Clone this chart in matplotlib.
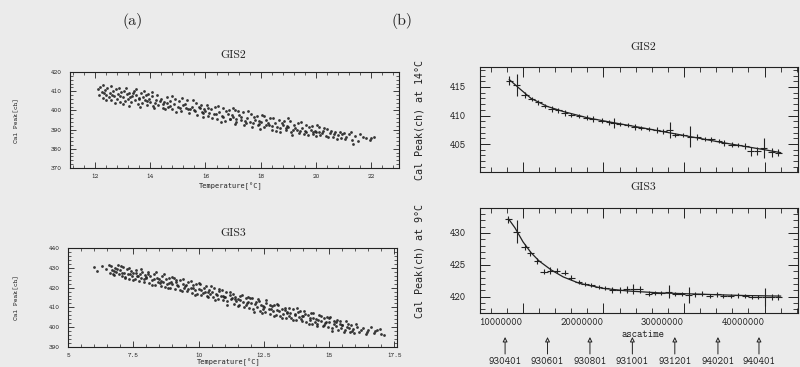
import matplotlib
matplotlib.use('Agg')
import matplotlib.pyplot as plt
from matplotlib.ticker import MultipleLocator, NullFormatter, FixedLocator
from matplotlib.transforms import blended_transform_factory

# ---------------- data: panel (a) temperature dependence ----------------
gis2_temp_scatter = [
    (12.1, 411), (12.15, 408), (12.2, 412), (12.25, 409.5), (12.3, 406.5), (12.35, 410.5), (12.4, 408),
    (12.45, 411.5), (12.5, 407), (12.55, 409), (12.6, 405.5), (12.65, 410), (12.7, 407.5), (12.75, 411),
    (12.8, 406), (12.85, 408.5), (12.9, 404.5), (12.95, 409.5), (13.0, 407), (13.05, 410), (13.1, 405),
    (13.15, 408.5), (13.2, 406), (13.25, 409), (13.3, 404.5), (13.35, 407.5), (13.4, 410), (13.45, 405.5),
    (13.5, 408), (13.55, 403.5), (13.6, 406.5), (13.65, 409), (13.7, 404), (13.75, 407), (13.8, 405.5),
    (13.85, 408), (13.9, 403), (13.95, 406), (14.0, 404.5), (14.05, 407.5), (14.1, 402.5), (14.2, 405.5),
    (14.25, 408), (14.3, 403), (14.4, 406), (14.45, 401.5), (14.5, 404.5), (14.6, 407), (14.65, 402),
    (14.7, 405), (14.8, 400.5), (14.85, 403.5), (14.9, 406), (15.0, 402), (15.05, 405), (15.1, 399.5),
    (15.2, 403), (15.3, 401), (15.35, 405.5), (15.4, 398.5), (15.5, 402), (15.6, 400), (15.65, 404),
    (15.7, 397.5), (15.8, 401), (15.85, 403), (15.9, 398.5), (15.95, 400.5), (16.0, 399.5), (16.05, 403),
    (16.1, 397), (16.2, 400.5), (16.3, 398), (16.35, 402), (16.4, 395.5), (16.5, 399), (16.6, 397),
    (16.65, 401), (16.7, 394.5), (16.8, 398), (16.85, 400), (16.9, 395.5), (16.95, 397.5), (17.0, 396.5),
    (17.05, 400), (17.1, 394), (17.2, 397.5), (17.3, 395), (17.35, 399), (17.4, 392.5), (17.5, 396),
    (17.6, 394), (17.65, 398), (17.7, 391.5), (17.8, 395), (17.85, 397), (17.9, 392.5), (17.95, 394.5),
    (18.0, 394), (18.05, 397.5), (18.1, 391.5), (18.2, 395), (18.3, 392.5), (18.35, 396), (18.4, 390),
    (18.5, 393.5), (18.6, 391.5), (18.65, 395), (18.7, 389), (18.8, 392.5), (18.85, 394.5), (18.9, 390),
    (18.95, 392), (19.0, 391.5), (19.05, 394.5), (19.1, 389), (19.2, 392.5), (19.3, 390), (19.35, 393.5),
    (19.4, 388), (19.5, 391), (19.6, 389.5), (19.65, 392.5), (19.7, 387), (19.8, 390), (19.85, 392),
    (19.9, 387.5), (19.95, 389.5), (20.0, 389), (20.1, 391.5), (20.15, 387), (20.25, 389.5), (20.35, 386.5),
    (20.4, 390.5), (20.5, 388), (20.6, 386), (20.7, 389), (20.8, 387), (20.9, 385.5), (21.0, 388),
    (21.1, 386), (21.25, 389), (21.4, 386.5), (21.5, 384), (21.6, 387.5), (21.8, 385.5), (21.95, 384.5),
    (22.1, 386), (21.35, 382.5),
    (12.28, 413.0), (12.42, 405.5), (12.58, 412.5), (12.72, 404.0), (12.88, 411.5), (13.02, 403.5),
    (13.12, 411.5), (13.22, 402.5), (13.38, 409.0), (13.48, 411.0), (13.62, 402.0), (13.78, 410.0),
    (13.92, 408.5), (14.08, 409.5), (14.15, 401.0), (14.35, 405.0), (14.55, 400.5), (14.62, 404.0),
    (14.78, 407.5), (14.95, 399.0), (15.15, 406.5), (15.25, 403.5), (15.45, 400.5), (15.55, 405.5),
    (15.75, 402.0), (15.92, 396.5), (16.08, 401.5), (16.25, 396.0), (16.45, 402.5), (16.55, 394.0),
    (16.75, 399.5), (16.98, 401.0), (17.08, 393.0), (17.18, 399.5), (17.28, 396.5), (17.45, 393.5),
    (17.55, 399.5), (17.75, 396.5), (17.98, 390.5), (18.12, 397.0), (18.25, 393.5), (18.45, 396.0),
    (18.55, 389.5), (18.75, 393.5), (18.98, 396.0), (19.12, 387.0), (19.25, 391.0), (19.45, 394.0),
    (19.55, 387.5), (19.75, 391.5), (19.98, 386.5), (20.05, 392.5), (20.2, 388.0), (20.3, 391.0),
    (20.45, 386.0), (20.55, 389.5), (20.65, 387.5), (20.75, 385.0), (20.85, 388.5), (20.95, 387.5),
    (21.05, 385.0), (21.2, 387.5), (21.3, 384.5), (21.7, 386.0), (22.0, 385.5),
    (12.32, 409.0), (12.62, 408.0), (12.92, 407.5), (13.28, 407.0), (13.58, 406.0), (13.88, 405.0),
    (14.18, 404.0), (14.48, 403.5), (14.72, 402.5), (15.08, 401.5), (15.38, 400.5), (15.62, 399.5),
    (15.88, 399.0), (16.12, 398.5), (16.38, 398.0), (16.62, 396.5), (16.88, 395.5), (17.12, 395.5),
    (17.42, 394.5), (17.72, 393.5), (17.92, 393.0), (18.18, 392.5), (18.42, 392.0), (18.68, 391.0),
    (18.92, 391.0), (19.18, 390.0), (19.42, 389.5), (19.62, 388.5), (19.88, 388.5), (20.12, 388.5),
]

gis3_temp_scatter = [
    (6.0, 430.5), (6.1, 428.5), (6.3, 431), (6.45, 429.5), (6.6, 427.5), (6.65, 431), (6.7, 429),
    (6.75, 426.5), (6.8, 430), (6.85, 428), (6.9, 431.5), (6.95, 427), (7.0, 429), (7.05, 426),
    (7.1, 430.5), (7.15, 427.5), (7.2, 425.5), (7.25, 429.5), (7.3, 427), (7.35, 424.5), (7.4, 428.5),
    (7.45, 426), (7.5, 427.5), (7.55, 424.5), (7.6, 429), (7.65, 426), (7.7, 423.5), (7.75, 427),
    (7.8, 425), (7.85, 428), (7.9, 423), (7.95, 426.5), (8.0, 425), (8.05, 428), (8.1, 422.5),
    (8.15, 426), (8.2, 424), (8.3, 427), (8.35, 421.5), (8.4, 425), (8.45, 423), (8.5, 424.5),
    (8.55, 421), (8.6, 426), (8.65, 423), (8.7, 420.5), (8.75, 424.5), (8.8, 422), (8.85, 425),
    (8.9, 420), (8.95, 423), (9.0, 422), (9.05, 425), (9.1, 419.5), (9.15, 423), (9.2, 421),
    (9.3, 424), (9.35, 418.5), (9.4, 422), (9.45, 420), (9.5, 421.5), (9.55, 418.5), (9.6, 423),
    (9.7, 420), (9.75, 417.5), (9.8, 421.5), (9.85, 419), (9.9, 422), (9.95, 417), (10.0, 419.5),
    (10.05, 422), (10.1, 416.5), (10.2, 420), (10.25, 418), (10.3, 421), (10.35, 415.5), (10.4, 419),
    (10.45, 417), (10.5, 418), (10.55, 415), (10.6, 420), (10.7, 416.5), (10.75, 414), (10.8, 418.5),
    (10.85, 416), (10.9, 419), (10.95, 413.5), (11.0, 415.5), (11.05, 418), (11.1, 413), (11.2, 416.5),
    (11.25, 414), (11.3, 417), (11.35, 411.5), (11.4, 415), (11.45, 413), (11.5, 414), (11.55, 411),
    (11.6, 416), (11.7, 412.5), (11.75, 410), (11.8, 414.5), (11.85, 412), (11.9, 415), (11.95, 409.5),
    (12.0, 412), (12.05, 414.5), (12.1, 409), (12.2, 412.5), (12.25, 410), (12.3, 413), (12.35, 408),
    (12.4, 411), (12.45, 409), (12.5, 410), (12.55, 407.5), (12.6, 412), (12.7, 409), (12.75, 406.5),
    (12.8, 410.5), (12.85, 408), (12.9, 411), (12.95, 406), (13.0, 408.5), (13.05, 411), (13.1, 405.5),
    (13.2, 409), (13.25, 406.5), (13.3, 409.5), (13.35, 404.5), (13.4, 407.5), (13.45, 405.5), (13.5, 407),
    (13.55, 404.5), (13.6, 409), (13.7, 406), (13.75, 403.5), (13.8, 407.5), (13.85, 405), (13.9, 408),
    (13.95, 403), (14.0, 405.5), (14.05, 408), (14.1, 402.5), (14.2, 406), (14.25, 403.5), (14.3, 407),
    (14.35, 401.5), (14.4, 404.5), (14.45, 402.5), (14.5, 404), (14.55, 401.5), (14.6, 406), (14.7, 403),
    (14.75, 400.5), (14.8, 404.5), (14.85, 402), (14.9, 405), (14.95, 400), (15.0, 402.5), (15.05, 405),
    (15.1, 399.5), (15.2, 403), (15.25, 400.5), (15.3, 403.5), (15.35, 398.5), (15.4, 401.5), (15.45, 399.5),
    (15.5, 401), (15.6, 398.5), (15.65, 403), (15.7, 400), (15.8, 397.5), (15.85, 401), (15.9, 399),
    (15.95, 397), (16.05, 400), (16.15, 397.5), (16.3, 399.5), (16.4, 396.5), (16.5, 398.5), (16.6, 400),
    (16.7, 397), (16.85, 398.5), (17.0, 396.5), (16.95, 399),
    (6.58, 431.5), (6.72, 427.0), (6.88, 429.5), (7.02, 431.0), (7.18, 425.0), (7.32, 430.0),
    (7.48, 424.0), (7.62, 427.5), (7.78, 429.5), (7.92, 424.5), (8.08, 427.0), (8.22, 421.5),
    (8.38, 428.0), (8.52, 422.5), (8.68, 427.0), (8.82, 420.0), (8.98, 425.5), (9.12, 424.0),
    (9.28, 419.0), (9.42, 424.5), (9.58, 419.5), (9.72, 423.5), (9.88, 416.5), (10.02, 422.5),
    (10.18, 417.5), (10.32, 416.0), (10.48, 421.0), (10.62, 413.5), (10.78, 419.5), (10.92, 416.0),
    (11.08, 411.0), (11.22, 418.0), (11.38, 414.0), (11.52, 410.5), (11.68, 416.5), (11.82, 411.0),
    (11.98, 414.5), (12.12, 407.5), (12.28, 414.0), (12.42, 407.0), (12.58, 413.5), (12.72, 411.0),
    (12.88, 405.5), (13.02, 411.5), (13.18, 404.5), (13.32, 408.5), (13.48, 409.5), (13.62, 403.5),
    (13.78, 409.5), (13.92, 404.0), (14.08, 406.5), (14.22, 401.5), (14.38, 407.0), (14.52, 400.5),
    (14.68, 405.5), (14.82, 401.0), (14.98, 404.5), (15.12, 398.0), (15.28, 402.5), (15.42, 403.0),
    (15.58, 397.5), (15.72, 401.5), (15.88, 398.0), (16.02, 401.5), (16.22, 398.5), (16.45, 397.5),
    (16.75, 398.0), (17.1, 396.0),
    (6.78, 428.5), (7.08, 427.5), (7.38, 427.0), (7.68, 426.0), (7.98, 425.5), (8.28, 424.5),
    (8.58, 423.5), (8.88, 422.5), (9.18, 421.5), (9.48, 421.0), (9.78, 420.0), (10.08, 419.0),
    (10.38, 418.0), (10.68, 417.0), (10.98, 415.5), (11.28, 414.5), (11.58, 413.5), (11.88, 412.5),
    (12.18, 411.5), (12.48, 410.5), (12.78, 409.0), (13.08, 408.0), (13.38, 407.0), (13.68, 406.5),
    (13.98, 405.5), (14.28, 404.5), (14.58, 403.5), (14.88, 402.5), (15.18, 401.5), (15.48, 401.0),
    (15.78, 399.5),
]

# ---------------- data: panel (b) time dependence ----------------
gis2_time = [8.3e6, 9.2e6, 1.025e7, 1.11e7, 1.19e7, 1.27e7, 1.36e7, 1.44e7, 1.52e7, 1.60e7,
             1.70e7, 1.79e7, 1.87e7, 1.98e7, 2.07e7, 2.13e7, 2.20e7, 2.30e7, 2.39e7, 2.47e7,
             2.57e7, 2.66e7, 2.74e7, 2.82e7, 2.89e7, 2.99e7, 3.08e7, 3.16e7, 3.26e7, 3.34e7,
             3.43e7, 3.50e7, 3.59e7, 3.67e7, 3.76e7, 3.83e7, 3.91e7, 3.99e7, 4.09e7, 4.17e7]
gis2_peak = [416.1, 415.35, 413.6, 412.9, 412.3, 411.7, 411.1, 410.9, 410.5, 410.1,
             409.95, 409.65, 409.4, 409.1, 408.8, 408.7, 408.5, 408.3, 408.0, 407.8,
             407.6, 407.5, 407.2, 407.4, 406.6, 406.6, 406.3, 406.2, 405.9, 405.8,
             405.5, 405.2, 404.9, 404.8, 404.6, 403.7, 403.7, 404.3, 403.55, 403.45]
gis2_err = [0.8, 2.0, 0.5, 0.4, 0.4, 0.4, 0.5, 0.4, 0.5, 0.4,
            0.4, 0.4, 0.5, 0.4, 0.4, 0.9, 0.4, 0.4, 0.5, 0.4,
            0.4, 0.5, 0.4, 1.4, 0.4, 0.4, 1.8, 0.5, 0.4, 0.4,
            0.4, 0.5, 0.4, 0.4, 0.5, 0.8, 0.7, 1.7, 0.8, 0.6]
gis2_fit_time = [8.3e6, 9.5e6, 1.1e7, 1.3e7, 1.5e7, 1.8e7, 2.1e7, 2.5e7, 3.0e7, 3.5e7, 4.0e7, 4.2e7]
gis2_fit_peak = [416.3, 414.8, 413.0, 411.6, 410.7, 409.6, 408.8, 407.8, 406.5, 405.2, 404.0, 403.5]

gis3_time = [8.17e6, 9.2e6, 1.025e7, 1.09e7, 1.18e7, 1.26e7, 1.34e7, 1.42e7, 1.52e7, 1.60e7,
             1.69e7, 1.77e7, 1.85e7, 1.94e7, 2.02e7, 2.11e7, 2.20e7, 2.29e7, 2.37e7, 2.45e7,
             2.56e7, 2.64e7, 2.72e7, 2.81e7, 2.89e7, 2.97e7, 3.06e7, 3.14e7, 3.22e7, 3.32e7,
             3.41e7, 3.49e7, 3.58e7, 3.67e7, 3.76e7, 3.84e7, 3.92e7, 4.01e7, 4.09e7, 4.17e7]
gis3_peak = [432.1, 430.15, 427.8, 426.8, 425.6, 423.9, 424.1, 424.1, 423.75, 423.0,
             422.35, 422.0, 421.8, 421.55, 421.4, 421.05, 421.05, 421.15, 421.15, 421.15,
             420.5, 420.6, 420.6, 420.8, 420.4, 420.4, 420.25, 420.4, 420.5, 420.1,
             420.4, 420.1, 420.1, 420.25, 420.1, 419.9, 419.9, 420.0, 420.0, 420.0]
gis3_err = [0.5, 1.8, 0.5, 0.4, 0.4, 0.4, 0.5, 0.4, 0.4, 0.4,
            0.3, 0.3, 0.3, 0.3, 0.3, 0.4, 0.4, 0.5, 0.8, 0.5,
            0.4, 0.3, 0.3, 1.0, 0.3, 0.3, 1.3, 0.4, 0.4, 0.3,
            0.4, 0.3, 0.3, 0.4, 0.3, 0.3, 0.3, 1.4, 0.5, 0.5]
gis3_fit_time = [8.2e6, 9.0e6, 1.0e7, 1.1e7, 1.2e7, 1.35e7, 1.5e7, 1.7e7, 2.0e7, 2.3e7, 2.7e7, 3.2e7, 3.7e7, 4.2e7]
gis3_fit_peak = [432.2, 430.8, 428.6, 426.9, 425.6, 424.2, 423.1, 422.1, 421.3, 420.9, 420.6, 420.4, 420.2, 420.1]

bin_half_width = 0.45e6

date_labels = ['930401', '930601', '930801', '931001', '931201', '940201', '940401']
date_ascatime = [7.776e6, 1.30464e7, 1.83168e7, 2.35872e7, 2.88576e7, 3.42144e7, 3.9312e7]

time_tick_values = [1e7, 2e7, 3e7, 4e7]
time_tick_labels = ['10000000', '20000000', '30000000', '40000000']

# ---------------- styling ----------------
BG = '#ebebeb'
INK = '#222222'
MONO = ['cmtt10', 'DejaVu Sans Mono']
SERIF = ['cmr10', 'DejaVu Serif']
DEG_FONT = ['DejaVu Sans Mono']
W, H = 800, 367

plt.rcParams['font.family'] = MONO
plt.rcParams['axes.unicode_minus'] = False
plt.rcParams['axes.formatter.use_mathtext'] = False


def rect(l, t, r, b):
    return [l / W, 1 - b / H, (r - l) / W, (b - t) / H]


def fx(px):
    return px / W


def fy(py):
    return 1 - py / H


fig = plt.figure(figsize=(8, 3.67), dpi=100, facecolor=BG)


def style_axes(ax, big=False):
    ax.set_facecolor(BG)
    for s in ax.spines.values():
        s.set_color(INK)
        s.set_linewidth(0.8)
    if big:
        ax.tick_params(which='major', direction='in', length=7, width=0.7, color=INK,
                       top=True, right=True, labelsize=7.4, labelcolor=INK, pad=5)
        ax.tick_params(which='minor', direction='in', length=3.5, width=0.6, color=INK,
                       top=True, right=True)
        ax.tick_params(axis='y', pad=10)
    else:
        ax.tick_params(which='major', direction='in', length=4.5, width=0.6, color=INK,
                       top=True, right=True, labelsize=5.0, labelcolor=INK, pad=4)
        ax.tick_params(which='minor', direction='in', length=2.2, width=0.5, color=INK,
                       top=True, right=True)
        ax.tick_params(axis='y', pad=6)


def scatter_cloud(ax, pts):
    ax.plot([p[0] for p in pts], [p[1] for p in pts], ls='none', marker='o', ms=2.0,
            mew=0, color=INK, alpha=0.9)


# ---- (a) GIS2 ----
ax1 = fig.add_axes(rect(70, 72, 399, 168))
scatter_cloud(ax1, gis2_temp_scatter)
ax1.set_xlim(11.1, 23.0)
ax1.set_ylim(370, 420)
ax1.xaxis.set_major_locator(MultipleLocator(2))
ax1.xaxis.set_minor_locator(MultipleLocator(0.4))
ax1.yaxis.set_major_locator(MultipleLocator(10))
ax1.yaxis.set_minor_locator(MultipleLocator(2))
style_axes(ax1)
ax1.set_ylabel('Cal Peak[ch]', fontsize=5.2, color=INK)
ax1.yaxis.set_label_coords((20 - 70) / 329, 0.5)
ax1.set_xlabel('Temperature[°C]', fontsize=5.0, family=DEG_FONT, color=INK)
ax1.xaxis.set_label_coords(0.49, -(186 - 168) / 96)
ax1.xaxis.label.set_va('center')

# ---- (a) GIS3 ----
ax2 = fig.add_axes(rect(68, 248, 397, 347))
scatter_cloud(ax2, gis3_temp_scatter)
ax2.set_xlim(5.0, 17.6)
ax2.set_ylim(390, 440)
ax2.xaxis.set_major_locator(MultipleLocator(2.5))
ax2.xaxis.set_minor_locator(MultipleLocator(0.5))
ax2.xaxis.set_major_formatter(plt.FuncFormatter(lambda v, p: ('%g' % v)))
ax2.yaxis.set_major_locator(MultipleLocator(10))
ax2.yaxis.set_minor_locator(MultipleLocator(2))
style_axes(ax2)
ax2.set_ylabel('Cal Peak[ch]', fontsize=5.2, color=INK)
ax2.yaxis.set_label_coords((20 - 68) / 329, 0.5)
ax2.set_xlabel('Temperature[°C]', fontsize=5.0, family=DEG_FONT, color=INK)
ax2.xaxis.set_label_coords(0.49, -(362 - 347) / 99)
ax2.xaxis.label.set_va('center')

# ---- (b) GIS2 ----
ax3 = fig.add_axes(rect(480, 67, 798, 172))
ax3.errorbar(gis2_time, gis2_peak, xerr=bin_half_width, yerr=gis2_err, fmt='none',
             ecolor=INK, elinewidth=0.8, capsize=0)
ax3.plot(gis2_fit_time, gis2_fit_peak, color=INK, lw=0.9)
ax3.set_xlim(4.66e6, 4.416e7)
ax3.set_ylim(400.1, 418.5)
ax3.xaxis.set_major_locator(MultipleLocator(1e7))
ax3.xaxis.set_minor_locator(MultipleLocator(2e6))
ax3.xaxis.set_major_formatter(NullFormatter())
ax3.yaxis.set_major_locator(MultipleLocator(5))
ax3.yaxis.set_minor_locator(MultipleLocator(1))
style_axes(ax3, big=True)
ax3.set_ylabel('Cal Peak(ch) at 14°C', fontsize=7.2, family=DEG_FONT, color=INK)
ax3.yaxis.set_label_coords((424 - 480) / 318, 0.5)

# ---- (b) GIS3 ----
ax4 = fig.add_axes(rect(480, 208, 798, 313))
ax4.errorbar(gis3_time, gis3_peak, xerr=bin_half_width, yerr=gis3_err, fmt='none',
             ecolor=INK, elinewidth=0.8, capsize=0)
ax4.plot(gis3_fit_time, gis3_fit_peak, color=INK, lw=0.9)
ax4.set_xlim(4.66e6, 4.416e7)
ax4.set_ylim(417.45, 433.9)
ax4.xaxis.set_major_locator(FixedLocator(time_tick_values))
ax4.xaxis.set_major_formatter(NullFormatter())
ax4.xaxis.set_minor_locator(MultipleLocator(2e6))
ax4.yaxis.set_major_locator(MultipleLocator(5))
ax4.yaxis.set_minor_locator(MultipleLocator(1))
style_axes(ax4, big=True)
ax4.set_ylabel('Cal Peak(ch) at 9°C', fontsize=7.2, family=DEG_FONT, color=INK)
ax4.yaxis.set_label_coords((424 - 480) / 318, 0.5)
ax4.text((643 - 480) / 318, -(335 - 313) / 105, 'ascatime', transform=ax4.transAxes,
         ha='center', va='center', fontsize=7.4, fontweight='bold', color=INK)

# time tick labels: in the original they end at their tick mark
trx = blended_transform_factory(ax4.transData, ax4.transAxes)
for v, lab in zip(time_tick_values, time_tick_labels):
    ax4.text(v, -(323 - 313) / 105, lab, transform=trx, ha='right', va='center',
             fontsize=7.4, color=INK, clip_on=False)

# date arrows below panel (b)
tr = blended_transform_factory(ax4.transData, fig.transFigure)
for lab, t in zip(date_labels, date_ascatime):
    ax4.annotate('', xy=(t, fy(337)), xycoords=tr, xytext=(t, fy(354)), textcoords=tr,
                 arrowprops=dict(arrowstyle='-|>', color=INK, lw=0.7, fc=BG,
                                 mutation_scale=7, shrinkA=0, shrinkB=0),
                 annotation_clip=False)
    ax4.text(t, fy(362), lab, transform=tr, ha='center', va='center',
             fontsize=7.6, color=INK, clip_on=False)

# titles
fig.text(fx(133), fy(21), '(a)', ha='center', va='center', fontsize=11.5, family=SERIF, color=INK)
fig.text(fx(402), fy(21), '(b)', ha='center', va='center', fontsize=11.5, family=SERIF, color=INK)
fig.text(fx(233), fy(55), 'GIS2', ha='center', va='center', fontsize=8.5, family=SERIF, color=INK)
fig.text(fx(233), fy(233), 'GIS3', ha='center', va='center', fontsize=8.5, family=SERIF, color=INK)
fig.text(fx(643), fy(47), 'GIS2', ha='center', va='center', fontsize=8.5, family=SERIF, color=INK)
fig.text(fx(643), fy(187), 'GIS3', ha='center', va='center', fontsize=8.5, family=SERIF, color=INK)

fig.savefig('out.png', dpi=100, facecolor=BG)
